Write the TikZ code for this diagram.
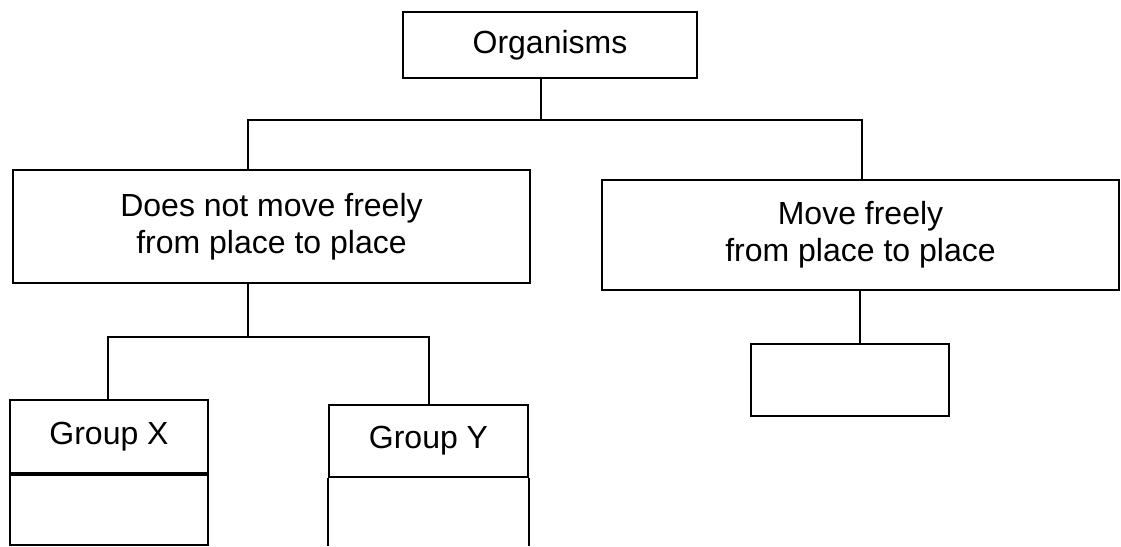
\documentclass[tikz,border=0pt]{standalone}
\usepackage{fontspec}
\setmainfont{Liberation Sans}
\begin{document}
\begin{tikzpicture}[x=1pt,y=-1pt,
  box/.style={draw, line width=2.3pt, inner sep=0pt, align=center,
    font=\fontsize{32}{37}\selectfont},
  link/.style={line width=2.3pt}]
\useasboundingbox (0,0) rectangle (1121,546);
% boxes
\node[box, minimum width=294pt, minimum height=66pt] (org) at (550,45) {Organisms};
\node[box, minimum width=517pt, minimum height=113pt] (left) at (271.5,226.5) {Does not move freely\\from place to place};
\node[box, minimum width=517pt, minimum height=110pt] (right) at (860.5,235) {Move freely\\from place to place};
\node[box, minimum width=198pt, minimum height=73pt] (gx) at (109,436.5) {Group X};
\node[box, minimum width=198pt, minimum height=70pt, anchor=north] (gxb) at (gx.south) {};
\node[box, minimum width=199pt, minimum height=72pt] (gy) at (428.5,441) {Group Y};
\node[box, minimum width=198pt, minimum height=72pt] (empty) at (850,380) {};
% Group Y open lower cell
\coordinate (gybl) at (gy.south west |- 0,546);
\coordinate (gybr) at (gy.south east |- 0,546);
\draw[link] (gy.south west) -- (gybl);
\draw[link] (gy.south east) -- (gybr);
% top connectors
\coordinate (j1) at (541,120);
\coordinate (b1l) at (248,120);
\coordinate (b1r) at (862,120);
\draw[link] (j1 |- org.south) -- (j1);
\draw[link] (b1l |- left.north) -- (b1l) -- (b1r) -- (b1r |- right.north);
% left sub-tree
\coordinate (j2) at (248,337);
\coordinate (b2l) at (108,337);
\coordinate (b2r) at (429,337);
\draw[link] (j2 |- left.south) -- (j2);
\draw[link] (b2l |- gx.north) -- (b2l) -- (b2r) -- (b2r |- gy.north);
% right sub-tree
\coordinate (j3) at (860,344);
\draw[link] (j3 |- right.south) -- (j3 |- empty.north);
\end{tikzpicture}
\end{document}
